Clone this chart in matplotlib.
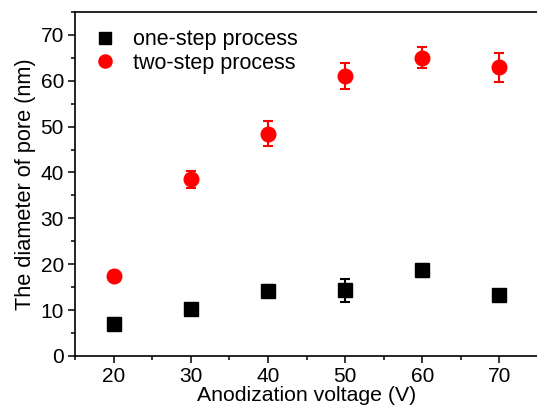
import matplotlib
matplotlib.use("Agg")
from matplotlib import pyplot as plt
from matplotlib.ticker import MultipleLocator

plt.rcParams['font.family'] = ['Liberation Sans', 'DejaVu Sans']

voltage = [20, 30, 40, 50, 60, 70]
one_step = [7.0, 10.3, 14.2, 14.3, 18.7, 13.2]
one_step_err = [1.3, 1.0, 1.2, 2.5, 1.4, 1.1]
two_step = [17.5, 38.5, 48.5, 61.1, 65.0, 62.9]
two_step_err = [1.0, 1.8, 2.7, 2.8, 2.3, 3.2]

fig = plt.figure(figsize=(5.37, 4.12), dpi=100)
ax = fig.add_axes([0.1397, 0.136, 0.8622, 0.835])

# error bars first, markers on top (so the legend shows plain markers)
ax.errorbar(voltage, one_step, yerr=one_step_err, fmt='none', ecolor='black',
            capsize=3.5, elinewidth=1.5, capthick=1.5)
ax.errorbar(voltage, two_step, yerr=two_step_err, fmt='none', ecolor='#ff0000',
            capsize=3.5, elinewidth=1.5, capthick=1.5)
ax.plot(voltage, one_step, 's', color='black', markersize=9.5,
        label='one-step process')
ax.plot(voltage, two_step, 'o', color='#ff0000', markersize=10.5,
        label='two-step process')

ax.set_xlim(15, 75)
ax.set_ylim(0, 75)
ax.xaxis.set_major_locator(MultipleLocator(10))
ax.xaxis.set_minor_locator(MultipleLocator(5))
ax.yaxis.set_major_locator(MultipleLocator(10))
ax.yaxis.set_minor_locator(MultipleLocator(5))
ax.tick_params(which='both', direction='out', width=1.1, labelsize=15)
ax.tick_params(which='major', length=5, pad=3)
ax.tick_params(which='minor', length=3)
for s in ax.spines.values():
    s.set_linewidth(1.2)

ax.set_xlabel('Anodization voltage (V)', fontsize=15.3, labelpad=0)
ax.set_ylabel('The diameter of pore (nm)', fontsize=15.7, labelpad=3)

leg = ax.legend(loc='upper left', frameon=False, fontsize=15.5,
                handletextpad=0.7, borderaxespad=0.4, labelspacing=0.12,
                handlelength=1.2, markerscale=0.9)

fig.savefig('out.png', dpi=100)
